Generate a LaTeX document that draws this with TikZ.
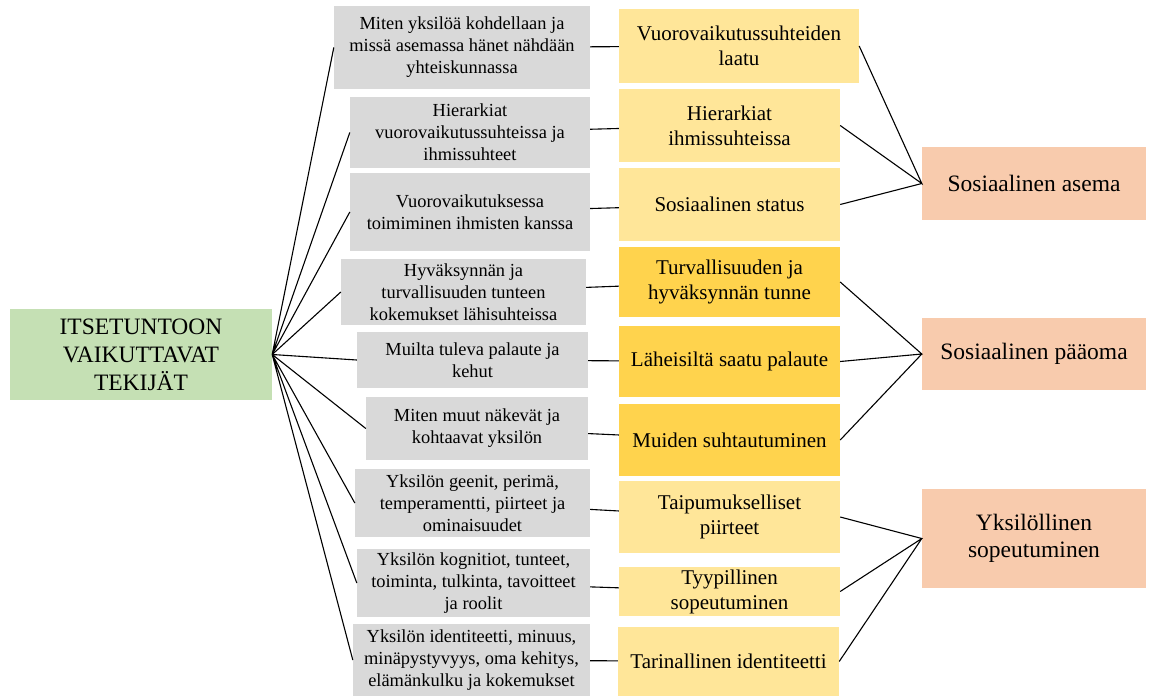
\documentclass[tikz,border=0pt]{standalone}
\usepackage{fontspec}
\setmainfont{LiberationSerif}[Extension=.ttf, UprightFont=*-Regular, BoldFont=*-Bold, ItalicFont=*-Italic]
\usepackage{tikz}

\definecolor{grey box}{HTML}{D9D9D9}
\definecolor{light gold}{HTML}{FFE699}
\definecolor{dark gold}{HTML}{FFD34D}
\definecolor{peach}{HTML}{F8CBAD}
\definecolor{sage}{HTML}{C5E0B4}

\begin{document}
\begin{tikzpicture}[x=1pt, y=-1pt,
  box/.style={rectangle, inner sep=0pt, align=center, text=black},
  root/.style={box, fill=sage, font=\fontsize{23.5pt}{28pt}\selectfont},
  cause/.style={box, fill=grey box, font=\fontsize{18.4pt}{22pt}\selectfont},
  factor/.style={box, fill=light gold, font=\fontsize{21pt}{25pt}\selectfont},
  hotfactor/.style={factor, fill=dark gold},
  area/.style={box, fill=peach, font=\fontsize{23.5pt}{27pt}\selectfont},
  link/.style={black, line width=1.1pt}]
\useasboundingbox (0,0) rectangle (1161,696);

\node [root, minimum width=262pt, minimum height=91pt] (t) at (141,354.5) {ITSETUNTOON\\VAIKUTTAVAT\\TEKIJÄT};

\node [cause, minimum width=256pt, minimum height=83pt] (g1) at (462,47.5) {Miten yksilöä kohdellaan ja\\missä asemassa hänet nähdään\\yhteiskunnassa};
\node [cause, minimum width=240pt, minimum height=71pt] (g2) at (470,132.5) {Hierarkiat\\vuorovaikutussuhteissa ja\\ihmissuhteet};
\node [cause, minimum width=240pt, minimum height=78pt] (g3) at (470,212) {Vuorovaikutuksessa\\toimiminen ihmisten kanssa};
\node [cause, minimum width=245pt, minimum height=66pt] (g4) at (463.5,292) {Hyväksynnän ja\\turvallisuuden tunteen\\kokemukset lähisuhteissa};
\node [cause, minimum width=231pt, minimum height=56pt] (g5) at (472.5,360) {Muilta tuleva palaute ja\\kehut};
\node [cause, minimum width=222pt, minimum height=63pt] (g6) at (477,428.5) {Miten muut näkevät ja\\kohtaavat yksilön};
\node [cause, minimum width=235pt, minimum height=68pt] (g7) at (472.5,503) {Yksilön geenit, perimä,\\temperamentti, piirteet ja\\ominaisuudet};
\node [cause, minimum width=233pt, minimum height=68pt] (g8) at (473.5,583) {Yksilön kognitiot, tunteet,\\toiminta, tulkinta, tavoitteet\\ja roolit};
\node [cause, minimum width=237pt, minimum height=72pt] (g9) at (471.5,660) {Yksilön identiteetti, minuus,\\minäpystyvyys, oma kehitys,\\elämänkulku ja kokemukset};

\node [factor, minimum width=240pt, minimum height=74pt] (y1) at (739,46) {Vuorovaikutussuhteiden\\laatu};
\node [factor, minimum width=221pt, minimum height=73pt] (y2) at (729.5,125.5) {Hierarkiat\\ihmissuhteissa};
\node [factor, minimum width=221pt, minimum height=73pt] (y3) at (729.5,204.5) {Sosiaalinen status};
\node [hotfactor, minimum width=221pt, minimum height=70pt] (y4) at (729.5,282) {Turvallisuuden ja\\hyväksynnän tunne};
\node [hotfactor, minimum width=221pt, minimum height=71pt] (y5) at (729.5,361.5) {Läheisiltä saatu palaute};
\node [hotfactor, minimum width=221pt, minimum height=72pt] (y6) at (729.5,440) {Muiden suhtautuminen};
\node [factor, minimum width=221pt, minimum height=72pt] (y7) at (729.5,517) {Taipumukselliset\\piirteet};
\node [factor, minimum width=221pt, minimum height=49pt] (y8) at (729.5,591.5) {Tyypillinen\\sopeutuminen};
\node [factor, minimum width=221pt, minimum height=69pt] (y9) at (728.5,661.5) {Tarinallinen identiteetti};

\node [area, minimum width=224pt, minimum height=73pt] (o1) at (1034,183.5) {Sosiaalinen asema};
\node [area, minimum width=224pt, minimum height=72pt] (o2) at (1034,354) {Sosiaalinen pääoma};
\node [area, minimum width=224pt, minimum height=99pt] (o3) at (1034,538.5) {Yksilöllinen\\sopeutuminen};

\draw [link] (t.east) -- (g1.west) (t.east) -- (g2.west) (t.east) -- (g3.west);
\draw [link] (t.east) -- (g4.west) (t.east) -- (g5.west) (t.east) -- (g6.west);
\draw [link] (t.east) -- (g7.west) (t.east) -- (g8.west) (t.east) -- (g9.west);
\draw [link] (g1) -- (y1) (g2) -- (y2) (g3) -- (y3);
\draw [link] (g4) -- (y4) (g5) -- (y5) (g6) -- (y6);
\draw [link] (g7) -- (y7) (g8) -- (y8) (g9) -- (y9);
\draw [link] (y1.east) -- (o1.west) -- (y2.east) (y3.east) -- (o1.west);
\draw [link] (y4.east) -- (o2.west) -- (y5.east) (y6.east) -- (o2.west);
\draw [link] (y7.east) -- (o3.west) -- (y8.east) (y9.east) -- (o3.west);
\end{tikzpicture}
\end{document}
